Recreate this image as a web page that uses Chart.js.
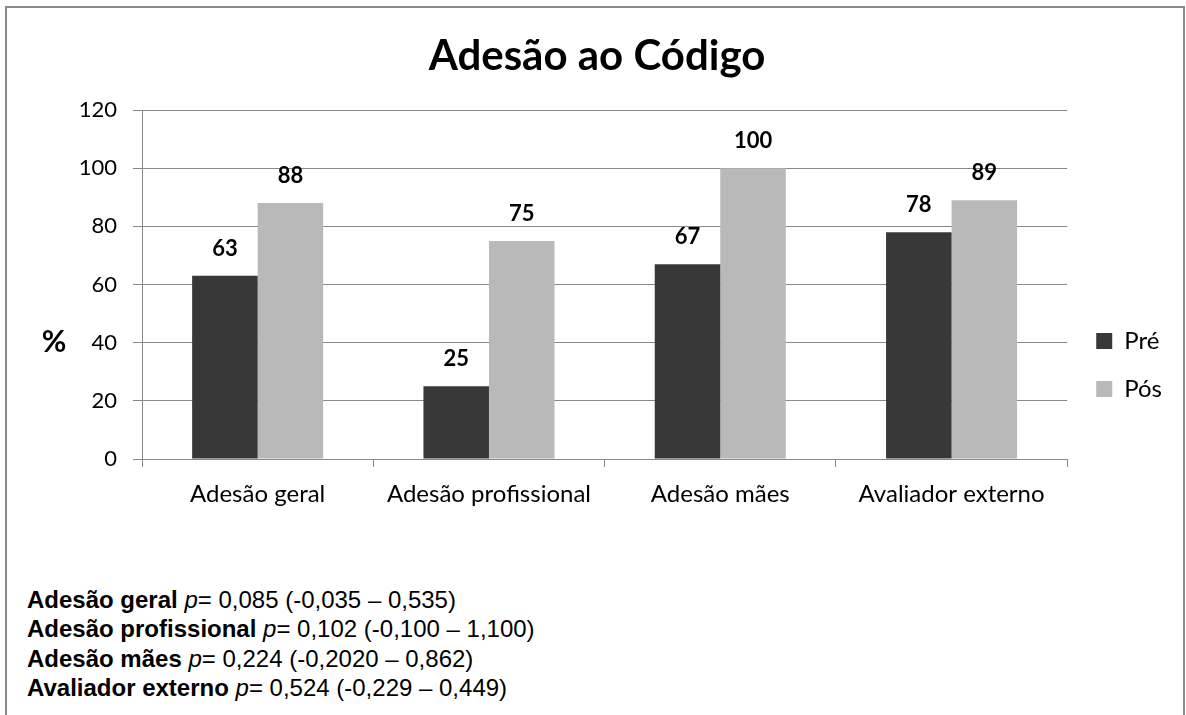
<!DOCTYPE html>
<html><head><meta charset="utf-8">
<script src="https://cdn.jsdelivr.net/npm/chart.js@4"></script>
<style>
html,body{margin:0;padding:0;background:#fff;overflow:hidden;width:1186px;height:715px;}
#frame{position:absolute;left:5px;top:6px;width:1176px;height:760px;border:2px solid #8a8a8a;border-bottom:none;}
#wrap{position:absolute;left:0;top:0;width:1186px;height:560px;}
#stats{position:absolute;left:27px;top:585px;font-family:"Liberation Sans",Arial,sans-serif;font-size:24px;line-height:29.3px;color:#000;white-space:nowrap;}
</style></head><body>
<div id="frame"></div>
<div id="wrap"><canvas id="c" width="1186" height="560"></canvas></div>
<div id="stats"></div>
<script>
const categories = ['Adesão geral', 'Adesão profissional', 'Adesão mães', 'Avaliador externo'];
const seriesNames = ['Pré', 'Pós'];
const preValues = [63, 25, 67, 78];
const posValues = [88, 75, 100, 89];
const yMin = 0, yMax = 120, yStep = 20;
const chartTitle = 'Adesão ao Código';
const yUnit = '%';
const statNames = ['Adesão geral', 'Adesão profissional', 'Adesão mães', 'Avaliador externo'];
const statP = ['0,085', '0,102', '0,224', '0,524'];
const statLow = ['-0,035', '-0,100', '-0,2020', '-0,229'];
const statHigh = ['0,535', '1,100', '0,862', '0,449'];

document.getElementById('stats').innerHTML = statNames.map((n, i) =>
  '<div><b>' + n + '</b> <i>p</i>= ' + statP[i] + ' (' + statLow[i] + ' – ' + statHigh[i] + ')</div>'
).join('');

const gridColor = '#898989';

const valueLabels = {
  id: 'valueLabels',
  afterDatasetsDraw(chart) {
    const ctx = chart.ctx;
    ctx.save();
    ctx.font = 'bold 22px Lato';
    ctx.fillStyle = '#000';
    ctx.textAlign = 'center';
    ctx.textBaseline = 'middle';
    chart.data.datasets.forEach((ds, i) => {
      chart.getDatasetMeta(i).data.forEach((bar, j) => {
        ctx.fillText(String(ds.data[j]), bar.x, bar.y - 27);
      });
    });
    ctx.restore();
  }
};

const axisUnit = {
  id: 'axisUnit',
  afterDraw(chart) {
    const {ctx, chartArea} = chart;
    ctx.save();
    ctx.font = 'bold 30px Lato';
    ctx.fillStyle = '#000';
    ctx.textAlign = 'center';
    ctx.textBaseline = 'middle';
    ctx.fillText(yUnit, chartArea.left - 88, chartArea.top + chartArea.height * 0.665);
    ctx.restore();
  }
};

new Chart(document.getElementById('c'), {
  type: 'bar',
  data: {
    labels: categories,
    datasets: [
      {label: seriesNames[0], data: preValues, backgroundColor: '#383838'},
      {label: seriesNames[1], data: posValues, backgroundColor: '#b9b9b9'}
    ]
  },
  options: {
    responsive: false,
    animation: false,
    devicePixelRatio: 1,
    layout: {padding: {left: 22, right: 14, top: 0, bottom: 41}},
    datasets: {bar: {categoryPercentage: 0.5665, barPercentage: 1}},
    plugins: {
      title: {display: true, text: chartTitle, color: '#000', font: {family: 'Lato', size: 42, weight: 'bold'}, padding: {top: 31, bottom: 28.6}},
      legend: {
        position: 'right', align: 'start', fullSize: false,
        title: {display: true, text: '', padding: {top: 180.6, bottom: 0}, font: {size: 12}},
        labels: {color: '#000', font: {family: 'Lato', size: 24}, boxWidth: 16, boxHeight: 16, padding: 24}
      },
      tooltip: {enabled: false}
    },
    scales: {
      x: {
        grid: {display: true, drawOnChartArea: false, drawTicks: true, tickLength: 8, color: gridColor, offset: true},
        border: {display: true, color: gridColor},
        ticks: {color: '#000', font: {family: 'Lato', size: 24}, padding: 13, maxRotation: 0},
        afterFit(s) { s.height = 60; }
      },
      y: {
        min: yMin, max: yMax,
        ticks: {stepSize: yStep, color: '#000', font: {family: 'Lato', size: 22}, padding: 16},
        grid: {color: gridColor, tickLength: 9},
        border: {color: gridColor},
        afterFit(s) { s.width = 120; }
      },
      y2: {
        position: 'right', display: true,
        grid: {display: false}, border: {display: false}, ticks: {display: false},
        afterFit(s) { s.width = 5; }
      }
    }
  },
  plugins: [valueLabels, axisUnit]
});
</script>
</body></html>
